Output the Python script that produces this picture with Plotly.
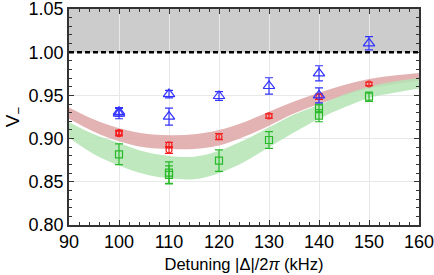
import plotly.graph_objects as go

# Theory bands
band_x = [90, 95, 100, 105, 110, 115, 120, 125, 130, 135, 140, 145, 150, 155, 160]
red_upper = [0.936, 0.922, 0.912, 0.906, 0.904, 0.905, 0.910, 0.919, 0.931, 0.943, 0.953, 0.962, 0.969, 0.973, 0.976]
red_lower = [0.923, 0.908, 0.897, 0.890, 0.888, 0.888, 0.892, 0.902, 0.915, 0.929, 0.940, 0.950, 0.958, 0.963, 0.967]
green_upper = [0.919, 0.905, 0.895, 0.885, 0.880, 0.879, 0.886, 0.898, 0.913, 0.928, 0.939, 0.951, 0.960, 0.966, 0.970]
green_lower = [0.901, 0.882, 0.869, 0.859, 0.854, 0.853, 0.860, 0.873, 0.890, 0.907, 0.923, 0.936, 0.947, 0.953, 0.958]

# Measured points
blue_x = [100, 100, 110, 110, 120, 130, 140, 140, 150]
blue_y = [0.931, 0.929, 0.9515, 0.9255, 0.9493, 0.9609, 0.9756, 0.950, 1.0103]
blue_err = [0.005, 0.006, 0.0044, 0.0098, 0.005, 0.0095, 0.0087, 0.0087, 0.0077]

red_x = [100, 100, 110, 110, 120, 130, 140, 150]
red_y = [0.9068, 0.9058, 0.8926, 0.8868, 0.9022, 0.9262, 0.9485, 0.9632]
red_err = [0.0028, 0.0028, 0.003, 0.004, 0.0035, 0.0025, 0.003, 0.002]

green_x = [100, 110, 110, 120, 130, 140, 140, 150]
green_y = [0.8818, 0.8606, 0.858, 0.8745, 0.8984, 0.935, 0.9265, 0.9485]
green_err = [0.012, 0.0125, 0.0105, 0.0125, 0.0096, 0.005, 0.007, 0.0054]

x_ticks = [90, 100, 110, 120, 130, 140, 150, 160]
y_ticks = [0.80, 0.85, 0.90, 0.95, 1.00, 1.05]

FONT = "Liberation Sans, Arial, sans-serif"

fig = go.Figure()

def band(upper, lower, color):
    fig.add_trace(go.Scatter(x=band_x, y=lower, mode="lines", line=dict(width=0, shape="spline"),
                             showlegend=False, hoverinfo="skip"))
    fig.add_trace(go.Scatter(x=band_x, y=upper, mode="lines", line=dict(width=0, shape="spline"),
                             fill="tonexty", fillcolor=color, showlegend=False, hoverinfo="skip"))

band(red_upper, red_lower, "rgba(222,165,165,0.85)")
band(green_upper, green_lower, "rgba(180,228,180,0.85)")

def pts(x, y, err, symbol, color, size):
    fig.add_trace(go.Scatter(
        x=x, y=y, mode="markers",
        marker=dict(symbol=symbol, size=size, color=color,
                    line=dict(color=color, width=1.2)),
        error_y=dict(type="data", array=err, visible=True, color=color, thickness=1.2, width=4),
        showlegend=False))

pts(green_x, green_y, green_err, "square-open", "rgb(40,185,40)", 7)
pts(red_x, red_y, red_err, "circle-open", "rgb(245,30,30)", 6)
pts(blue_x, blue_y, blue_err, "triangle-up-open", "rgb(50,50,255)", 10)

# shaded unphysical region and dashed boundary
fig.add_shape(type="rect", xref="paper", yref="y", x0=0, x1=1, y0=1.0, y1=1.05,
              fillcolor="rgb(204,204,204)", line=dict(width=0), layer="below")
fig.add_shape(type="line", xref="paper", yref="y", x0=0, x1=1, y0=1.0, y1=1.0,
              line=dict(color="black", width=2.5, dash="5px,3px"), layer="above")

axis_common = dict(
    showline=True, linecolor="#333333", linewidth=1.5, mirror="ticks",
    ticks="inside", ticklen=5, tickwidth=1.3, tickcolor="#333333",
    showgrid=True, gridcolor="#e8e8e8", gridwidth=1, zeroline=False,
    tickfont=dict(family=FONT, size=18, color="black"),
    automargin=False, ticklabeloverflow="allow",
)

fig.update_xaxes(range=[90, 160], tickvals=x_ticks, ticktext=[str(v) for v in x_ticks],
                 minor=dict(ticks="inside", ticklen=3, tickcolor="#333333", dtick=2, showgrid=False),
                 title=dict(text="Detuning |Δ|/2<i>π</i> (kHz)", font=dict(family=FONT, size=16.5, color="black"),
                            standoff=7),
                 **axis_common)
fig.update_yaxes(range=[0.80, 1.05], tickvals=y_ticks, ticktext=[f"{v:.2f}" for v in y_ticks],
                 minor=dict(ticks="inside", ticklen=3, tickcolor="#333333", dtick=0.01, showgrid=False),
                 title=dict(text="V<sub>−</sub>", font=dict(family=FONT, size=19, color="black"),
                            standoff=4),
                 **axis_common)

fig.update_layout(width=434, height=275, margin=dict(l=69, r=15, t=9, b=50),
                  plot_bgcolor="white", paper_bgcolor="white", showlegend=False)

fig.write_html("out.html", config={"displayModeBar": False},
               post_script="document.body.style.margin='0';document.body.style.overflow='hidden';")
